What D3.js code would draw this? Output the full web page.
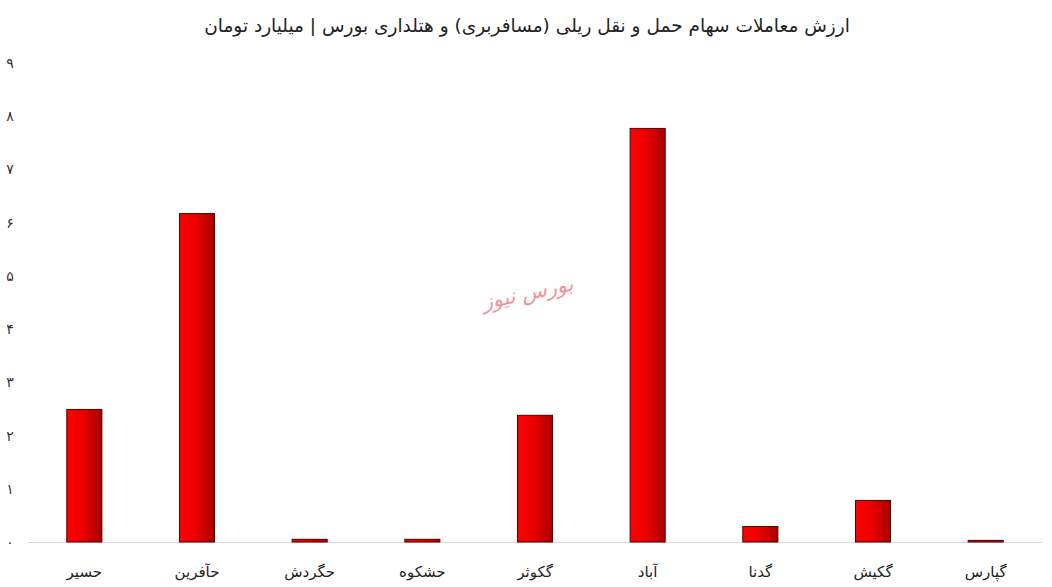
<!DOCTYPE html>
<html><head><meta charset="utf-8">
<script src="https://cdn.jsdelivr.net/npm/d3@7"></script>
<style>body{margin:0;background:#fff}svg{display:block}</style>
</head><body>
<svg id="c" width="1052" height="587"></svg>
<script>
const categories = ["حسیر","حآفرین","حگردش","حشکوه","گکوثر","آباد","گدنا","گکیش","گپارس"];
const values = [2.5, 6.18, 0.06, 0.06, 2.39, 7.78, 0.3, 0.79, 0.04];
const yTicks = [0,1,2,3,4,5,6,7,8,9];
const tickLabels = ["۰","۱","۲","۳","۴","۵","۶","۷","۸","۹"];
const title = "ارزش معاملات سهام حمل و نقل ریلی (مسافربری) و هتلداری بورس | میلیارد تومان";

const svg = d3.select("#c");
const font = "DejaVu Sans";
const x = d3.scaleBand().domain(categories).range([28, 1042]).paddingInner(0.68).paddingOuter(0.34);
const y = d3.scaleLinear().domain([0, 9]).range([542, 63]);

const defs = svg.append("defs");
const g = defs.append("linearGradient").attr("id","bg").attr("x1","0").attr("x2","1").attr("y1","0").attr("y2","0");
g.append("stop").attr("offset","0%").attr("stop-color","#ff0000");
g.append("stop").attr("offset","45%").attr("stop-color","#ec0000");
g.append("stop").attr("offset","100%").attr("stop-color","#a80000");

svg.append("text").attr("x", 527).attr("y", 32).attr("text-anchor","middle")
  .attr("font-family", font).attr("font-size", 18.5).attr("fill","#222").attr("direction","rtl").text(title);

// y tick labels
svg.append("g").selectAll("text").data(yTicks).join("text")
  .attr("x", 10).attr("y", d => y(d) + 5).attr("text-anchor","middle")
  .attr("font-family", font).attr("font-size", 14).attr("fill","#333")
  .text((d,i) => tickLabels[i]);

// baseline
svg.append("line").attr("x1", 28).attr("x2", 1042).attr("y1", y(0)+0.5).attr("y2", y(0)+0.5)
  .attr("stroke","#d9d9d9").attr("stroke-width",1);

// watermark
svg.append("text").attr("x", 528).attr("y", 300).attr("text-anchor","middle")
  .attr("font-family", font).attr("font-size", 21).attr("font-style","italic").attr("fill","#f0949c")
  .attr("direction","rtl").attr("transform","rotate(-12 528 295)").text("بورس نیوز");

// bars
svg.append("g").selectAll("rect").data(values).join("rect")
  .attr("x", (d,i) => x(categories[i]) + 0.5)
  .attr("y", d => y(d) + 0.5)
  .attr("width", x.bandwidth() - 1)
  .attr("height", d => Math.max(1, y(0) - y(d) - 0.5))
  .attr("fill","url(#bg)").attr("stroke","#4a0000").attr("stroke-width",1);

// x labels
svg.append("g").selectAll("text").data(categories).join("text")
  .attr("x", d => x(d) + x.bandwidth()/2).attr("y", 577).attr("text-anchor","middle")
  .attr("font-family", font).attr("font-size", 15).attr("fill","#222").attr("direction","rtl")
  .text(d => d);
</script>
</body></html>
